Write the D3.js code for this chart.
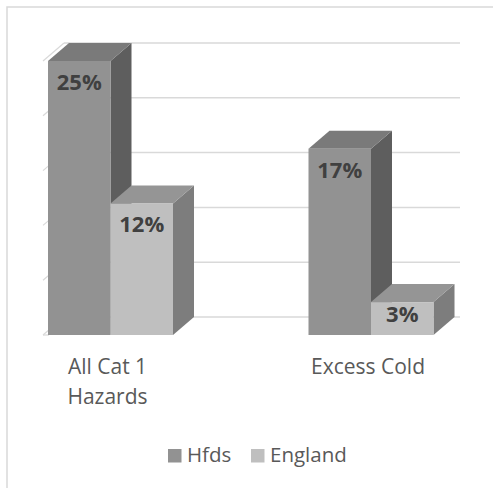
<!DOCTYPE html>
<html>
<head>
<meta charset="utf-8">
<script src="https://cdn.jsdelivr.net/npm/d3@7"></script>
<style>
  html, body { margin: 0; padding: 0; background: #ffffff; }
  svg { display: block; }
</style>
</head>
<body>
<script>
// Category 1 hazards: Hfds vs England (3D clustered columns)
const categories = [["All Cat 1", "Hazards"], ["Excess Cold"]];
const categoryKeys = ["All Cat 1 Hazards", "Excess Cold"];
const seriesNames = ["Hfds", "England"];
const hfdsValues = [25, 17];
const englandValues = [12, 3];
const yTicks = [0, 5, 10, 15, 20, 25];

const W = 493, H = 488;
const svg = d3.select("body").append("svg").attr("width", W).attr("height", H);

// Chart frame (extends past the right and bottom edges)
svg.append("rect")
  .attr("x", 7).attr("y", 7).attr("width", W + 20).attr("height", H + 20)
  .attr("fill", "none").attr("stroke", "#d9d9d9").attr("stroke-width", 1.5);

// Scales
const y = d3.scaleLinear().domain([0, 25]).range([335, 61]);
const x = d3.scalePoint().domain(categoryKeys).range([110.5, 371]);
const barW = 62.5;
const depth = { dx: 21, dy: -18 };
const axisLeft = 43, wallRight = 460;

const series = [
  { name: seriesNames[0], values: hfdsValues, front: "#929292", top: "#7a7a7a", side: "#5e5e5e", offset: -barW },
  { name: seriesNames[1], values: englandValues, front: "#bfbfbf", top: "#959595", side: "#7d7d7d", offset: 0 }
];

// Back wall gridlines and left wall edges
const grid = svg.append("g");
yTicks.forEach(t => {
  const yf = y(t);
  grid.append("line")
    .attr("x1", axisLeft + depth.dx).attr("x2", wallRight)
    .attr("y1", yf + depth.dy).attr("y2", yf + depth.dy)
    .attr("stroke", "#d9d9d9").attr("stroke-width", 1.5);
  grid.append("line")
    .attr("x1", axisLeft).attr("y1", yf)
    .attr("x2", axisLeft + depth.dx).attr("y2", yf + depth.dy)
    .attr("stroke", "#d9d9d9").attr("stroke-width", 1.2);
});
// Front floor edge
grid.append("line")
  .attr("x1", axisLeft).attr("x2", axisLeft + 6)
  .attr("y1", y(0)).attr("y2", y(0))
  .attr("stroke", "#d9d9d9").attr("stroke-width", 1.2);

// 3D columns
const bars = svg.append("g");
categoryKeys.forEach((cat, ci) => {
  series.forEach(s => {
    const v = s.values[ci];
    const x0 = x(cat) + s.offset, x1 = x0 + barW;
    const yt = y(v), yb = y(0);
    const g = bars.append("g");
    // right side face
    g.append("path")
      .attr("d", `M${x1},${yt} L${x1 + depth.dx},${yt + depth.dy} L${x1 + depth.dx},${yb + depth.dy} L${x1},${yb} Z`)
      .attr("fill", s.side);
    // top face
    g.append("path")
      .attr("d", `M${x0},${yt} L${x0 + depth.dx},${yt + depth.dy} L${x1 + depth.dx},${yt + depth.dy} L${x1},${yt} Z`)
      .attr("fill", s.top);
    // front face
    g.append("rect")
      .attr("x", x0).attr("y", yt).attr("width", barW).attr("height", yb - yt)
      .attr("fill", s.front);
    // value label
    const h = yb - yt;
    g.append("text")
      .attr("x", x0 + barW / 2)
      .attr("y", yt + Math.min(29, h * 0.6))
      .attr("text-anchor", "middle")
      .attr("font-family", "'Open Sans', sans-serif")
      .attr("font-weight", "bold")
      .attr("font-size", 22)
      .attr("fill", "#404040")
      .text(v + "%");
  });
});

// Category labels
const labels = svg.append("g")
  .attr("font-family", "'Open Sans', sans-serif")
  .attr("font-size", 21)
  .attr("fill", "#595959")
  .attr("text-anchor", "middle");
categoryKeys.forEach((cat, ci) => {
  const t = labels.append("text").attr("x", x(cat) - 3).attr("y", 374);
  categories[ci].forEach((line, li) => {
    t.append("tspan").attr("x", x(cat) - 3).attr("dy", li === 0 ? 0 : 30).text(line);
  });
});

// Legend
const legendItems = [
  { name: seriesNames[0], color: series[0].front, x: 168 },
  { name: seriesNames[1], color: series[1].front, x: 251 }
];
const legend = svg.append("g");
legendItems.forEach(it => {
  legend.append("rect")
    .attr("x", it.x).attr("y", 449).attr("width", 13.5).attr("height", 13.5)
    .attr("fill", it.color);
  legend.append("text")
    .attr("x", it.x + 19).attr("y", 462)
    .attr("font-family", "'Open Sans', sans-serif")
    .attr("font-size", 20.5)
    .attr("fill", "#595959")
    .text(it.name);
});
</script>
</body>
</html>
